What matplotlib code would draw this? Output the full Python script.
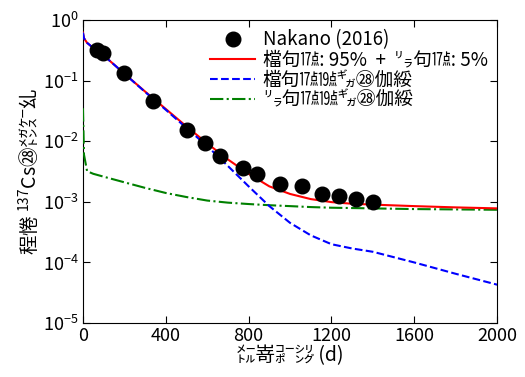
import matplotlib
matplotlib.use("Agg")
import matplotlib.pyplot as plt
import numpy as np

plt.rcParams['font.family'] = ['Noto Sans CJK JP', 'DejaVu Sans']
plt.rcParams['mathtext.fontset'] = 'custom'
plt.rcParams['mathtext.rm'] = 'Noto Sans CJK JP'

# Observed data (Nakano 2016)
obs_t = [68, 97, 198, 338, 502, 589, 662, 773, 841, 952, 1058, 1155, 1237, 1319, 1401]
obs_v = [0.32, 0.285, 0.133, 0.046, 0.0155, 0.0095, 0.0058, 0.0036, 0.0029, 0.0020, 0.0018, 0.00135, 0.00125, 0.00112, 0.00098]

# Model curves
t_curve = [0, 5, 20, 50, 100, 200, 300, 400, 500, 600, 700, 800, 900, 1000, 1100, 1200, 1300, 1400, 1600, 1800, 2000]
blue_v = [0.62, 0.50, 0.42, 0.345, 0.26, 0.13, 0.065, 0.033, 0.0165, 0.0083, 0.0039, 0.0018, 0.00085, 0.00045, 0.00028, 0.0002, 0.00017, 0.00015, 0.0001, 0.000065, 0.000043]
green_v = [0.035, 0.006, 0.0032, 0.0029, 0.0026, 0.0021, 0.0017, 0.0014, 0.0012, 0.00105, 0.00097, 0.00092, 0.00088, 0.00085, 0.00082, 0.0008, 0.00079, 0.00078, 0.00076, 0.00075, 0.00074]
red_v = [0.62, 0.50, 0.42, 0.345, 0.26, 0.13, 0.066, 0.034, 0.0175, 0.0092, 0.0050, 0.0029, 0.0018, 0.00135, 0.00111, 0.00099, 0.00093, 0.0009, 0.00085, 0.00081, 0.00078]

labels = ['Nakano (2016)',
          '檔句㍩: 95%  +  ㍒句㍩: 5%',
          '檔句㍩㍫㌐㉘伽綏',
          '㍒句㍩㍫㌐㉘伽綏']

fig = plt.figure(figsize=(5.25, 3.77), dpi=100)
ax = fig.add_axes([0.158, 0.143, 0.789, 0.804])

ax.plot(obs_t, obs_v, 'o', color='black', markersize=10.5, label=labels[0], zorder=5)
ax.plot(t_curve, red_v, '-', color='red', lw=1.5, label=labels[1], zorder=4)
ax.plot(t_curve, blue_v, '--', color='blue', lw=1.5, label=labels[2], zorder=4)
ax.plot(t_curve, green_v, '-.', color='green', lw=1.5, label=labels[3], zorder=3)

ax.set_yscale('log')
ax.set_xlim(0, 2000)
ax.set_ylim(1e-5, 1)
ax.set_xticks([0, 400, 800, 1200, 1600, 2000])
ax.set_yticks([1e-5, 1e-4, 1e-3, 1e-2, 1e-1, 1])
ax.minorticks_off()
ax.tick_params(direction='in', top=True, right=True, labelsize=13, length=5)
ax.tick_params(axis='x', pad=3)
ax.tick_params(axis='y', pad=3)

ax.set_xlabel('㍍嵜㌞㌡ (d)', fontsize=14, labelpad=0)
ax.set_ylabel('程惓 $^{137}$Cs㉘㍌㌜乣', fontsize=14, labelpad=1)

leg = ax.legend(loc='upper right', frameon=False, fontsize=13.5, handlelength=2.4,
                borderaxespad=0.1, labelspacing=-0.05, handletextpad=0.4,
                bbox_to_anchor=(1.0, 1.0))

fig.savefig('out.png', dpi=100)
